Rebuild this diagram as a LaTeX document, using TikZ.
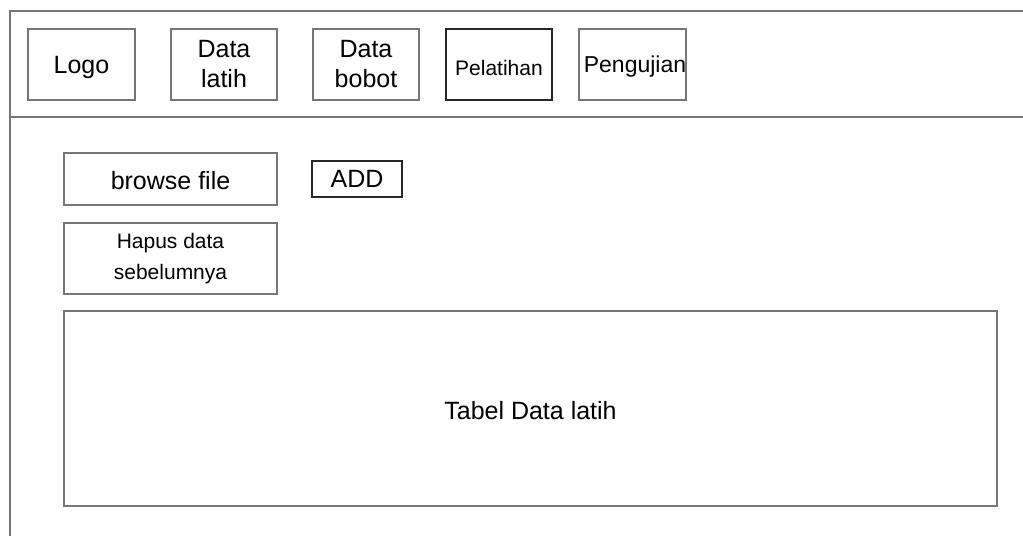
\documentclass[tikz,border=0pt]{standalone}
\usepackage{fontspec}
\setmainfont{Liberation Sans}
\definecolor{framegray}{RGB}{118,118,118}
\begin{document}
\begin{tikzpicture}[x=1pt,y=-1pt,
  box/.style={draw=framegray,line width=2.2pt,inner sep=0pt,align=center},
  thinbox/.style={draw=black!85,line width=1.4pt,inner sep=0pt,align=center},
  big/.style={font=\fontsize{25}{30}\selectfont},
  small/.style={font=\fontsize{21}{31}\selectfont}]
\useasboundingbox (0,0) rectangle (1023,536);
\fill[white] (0,0) rectangle (1023,536);
% frame
\draw[framegray,line width=2.2pt] (10,536) -- (10,11) -- (1023,11);
\draw[framegray,line width=2.2pt] (10,117) -- (1023,117);
% top menu
\node[box,minimum width=107,minimum height=71] (logo) at (81.5,64.5) {};
\node[big,inner sep=0pt] (logotext) at (81.5,67) {Logo};
\node[box,big,minimum width=106,minimum height=71] (datalatih) at (224,64.5) {Data\\latih};
\node[box,big,minimum width=106,minimum height=71] (databobot) at (366,64.5) {Data\\bobot};
\node[thinbox,minimum width=106,minimum height=71] (pelatihan) at (499,64.5) {};
\node[small,inner sep=0pt] (pelatihantext) at (499,68) {Pelatihan};
\node[box,minimum width=107,minimum height=71] (pengujian) at (632.5,64.5) {};
\node[inner sep=0pt,font=\fontsize{23}{28}\selectfont] (pengujiantext) at (635,67) {Pengujian};
% content
\node[box,minimum width=213,minimum height=52] (browse) at (170.5,179) {};
\node[big,inner sep=0pt] (browsetext) at (170.5,181) {browse file};
\node[thinbox,big,minimum width=90,minimum height=36] (add) at (357,179) {ADD};
\node[box,small,minimum width=213,minimum height=71] (hapus) at (170.5,258.5) {Hapus data\\sebelumnya};
\node[box,minimum width=933,minimum height=195] (tabel) at (530.5,408.5) {};
\node[big,inner sep=0pt] (tabeltext) at (530.5,411) {Tabel Data latih};
\end{tikzpicture}
\end{document}
